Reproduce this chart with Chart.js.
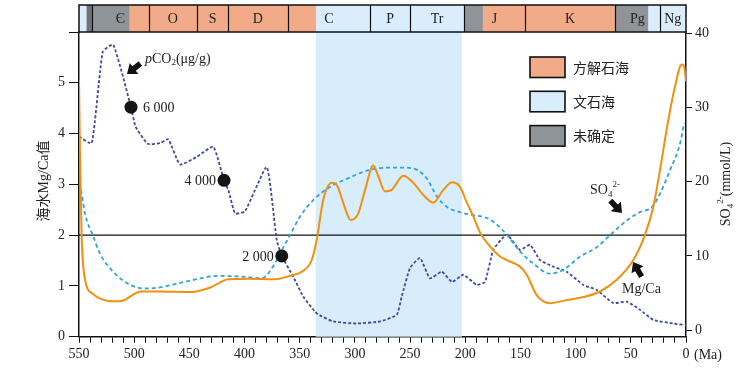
<!DOCTYPE html>
<html>
<head>
<meta charset="utf-8">
<script src="https://cdn.jsdelivr.net/npm/chart.js@4.4.0/dist/chart.umd.min.js"></script>
<style>
html, body { margin: 0; padding: 0; background: #fff; }
#wrap { width: 745px; height: 370px; position: relative; }
</style>
</head>
<body>
<div id="wrap"><canvas id="chartSeawater"></canvas></div>
<script>
// seawater Mg/Ca (left axis), age in Ma
const ageMgCa = [550, 549.1, 547.6, 546.1, 543.0, 538.5, 521, 512.8, 493.8, 476.6, 447.9, 431, 414.7, 395, 372.4, 358.8, 348.2, 339.1, 334.6, 328.6, 321.0, 316.5, 310.5, 303.8, 296.9, 290.8, 283.3, 278.8, 272.7, 266.7, 256.1, 247.1, 238.0, 229.0, 219.9, 212.0, 204.8, 198.4, 192.7, 186.6, 177.6, 168.5, 162.4, 150.4, 144.3, 135.3, 123.2, 108.1, 93.0, 77.9, 62.8, 47.7, 37.1, 29.6, 23.5, 16.0, 9.9, 3.9, 1.8, 0];
const mgCa = [5.06, 3.6, 1.97, 1.38, 0.99, 0.86, 0.70, 0.70, 0.89, 0.89, 0.88, 0.97, 1.13, 1.14, 1.13, 1.20, 1.28, 1.51, 1.91, 2.70, 3.03, 2.99, 2.63, 2.30, 2.43, 2.89, 3.37, 3.16, 2.86, 2.89, 3.17, 3.03, 2.79, 2.64, 2.89, 3.04, 2.95, 2.63, 2.37, 2.05, 1.78, 1.58, 1.51, 1.38, 1.22, 0.82, 0.66, 0.72, 0.78, 0.89, 1.12, 1.51, 2.01, 2.56, 3.29, 4.27, 4.93, 5.36, 5.33, 5.03];

// SO4 2- in mmol/L (right axis)
const ageSO4 = [550, 547.6, 544.6, 537.0, 531.0, 519.2, 503.8, 490.2, 476.6, 454.0, 424.0, 402.3, 384.2, 372.4, 367.9, 358.8, 349.7, 337.9, 322.6, 307.2, 289.0, 271.0, 256.4, 243.7, 234.7, 225.6, 216.5, 204.8, 193.0, 180.3, 171.2, 162.2, 150.4, 138.6, 123.2, 111.4, 96.0, 80.6, 68.8, 53.4, 41.7, 30.8, 23.5, 14.4, 5.3, 1.8];
const so4 = [19.8, 18.4, 15.7, 12.6, 10.3, 7.9, 6.1, 5.6, 5.75, 6.5, 7.3, 7.2, 7.0, 9.0, 10.3, 12.8, 15.3, 17.5, 19.3, 20.4, 21.5, 21.9, 21.9, 21.6, 20.4, 18.0, 16.6, 15.9, 15.5, 15.1, 14.2, 12.8, 10.6, 9.0, 7.6, 8.1, 9.9, 11.2, 12.8, 14.8, 15.9, 16.6, 18.4, 21.6, 25.2, 27.9];

// pCO2 curve, drawn against the left axis
const agePco2 = [550, 538.5, 528.5, 518.9, 502.9, 498.8, 487.9, 476.6, 469.1, 458.5, 443.4, 428.3, 418.6, 414.7, 408.6, 399.6, 379.9, 370.9, 366.3, 355.8, 346.8, 334.6, 319.6, 298.4, 277.3, 262.1, 257.6, 250.1, 241.0, 232.0, 221.3, 212.0, 201.8, 189.6, 182.1, 174.6, 162.4, 150.4, 141.3, 132.3, 120.2, 108.1, 93.0, 80.9, 65.8, 53.7, 41.7, 29.6, 11.5, 0];
const pco2 = [3.94, 3.81, 5.61, 5.75, 4.52, 4.14, 3.80, 3.81, 3.89, 3.39, 3.54, 3.74, 3.08, 2.89, 2.43, 2.47, 3.34, 1.91, 1.59, 1.18, 0.79, 0.46, 0.30, 0.26, 0.30, 0.43, 0.79, 1.35, 1.55, 1.15, 1.28, 1.08, 1.22, 1.02, 1.08, 1.71, 2.01, 1.71, 1.81, 1.51, 1.38, 1.28, 1.02, 0.92, 0.66, 0.69, 0.53, 0.33, 0.26, 0.23];

// labelled pCO2 points
const pco2MarkAge = [502.9, 418.6, 366.3];
const pco2MarkVal = [4.52, 3.08, 1.59];
const pco2MarkText = ['6 000', '4 000', '2 000'];

// geologic periods (top bar)
const periodName = ['Є', 'O', 'S', 'D', 'C', 'P', 'Tr', 'J', 'K', 'Pg', 'Ng'];
const periodStart = [538, 487, 443, 415, 361, 286, 250, 201, 146, 64, 24];
const periodEnd = [487, 443, 415, 361, 286, 250, 201, 146, 64, 24, 0];

// sea chemistry intervals
const seaStart = [550, 543, 504, 335, 201, 184, 64, 34];
const seaEnd = [543, 504, 335, 201, 184, 64, 34, 0];
const seaType = ['文石海', '未确定', '方解石海', '文石海', '未确定', '方解石海', '未确定', '文石海'];
const legendNames = ['方解石海', '文石海', '未确定'];

// aragonite interval shaded in the plot
const shadeFrom = 335.5;
const shadeTo = 203;

const xTicks = [550, 500, 450, 400, 350, 300, 250, 200, 150, 100, 50, 0];
const yLeftTicks = [0, 1, 2, 3, 4, 5];
const yRightTicks = [0, 10, 20, 30, 40];

const seaColor = { '方解石海': '#f1ab88', '文石海': '#d9edfc', '未确定': '#8f9499' };
const serif = '"Liberation Serif", "DejaVu Serif", serif';
const cjk = '"Noto Sans CJK SC", sans-serif';

function toXY(xs, ys) {
    return xs.map((v, i) => ({ x: v, y: ys[i] }));
}

function drawRich(ctx, parts, x, y, align) {
    let total = 0;
    parts.forEach(p => { ctx.font = p.font; total += ctx.measureText(p.t).width; });
    let cx = align == 'center' ? x - total / 2 : (align == 'right' ? x - total : x);
    ctx.textAlign = 'left';
    ctx.textBaseline = 'alphabetic';
    parts.forEach(p => {
        ctx.font = p.font;
        ctx.fillText(p.t, cx, y + (p.dy || 0));
        cx += ctx.measureText(p.t).width;
    });
}

function drawArrow(ctx, tx, ty, dx, dy) {
    ctx.save();
    ctx.translate(tx, ty);
    ctx.rotate(Math.atan2(dy, dx));
    ctx.beginPath();
    ctx.moveTo(0, 0);
    ctx.lineTo(-9, -7);
    ctx.lineTo(-9, -2.8);
    ctx.lineTo(-17, -2.8);
    ctx.lineTo(-17, 2.8);
    ctx.lineTo(-9, 2.8);
    ctx.lineTo(-9, 7);
    ctx.closePath();
    ctx.fillStyle = '#111';
    ctx.fill();
    ctx.restore();
}

const backPlugin = {
    id: 'backPlugin',
    beforeDatasetsDraw: function (chart) {
        const { ctx, chartArea: a, scales: { x, y } } = chart;
        ctx.save();
        const x1 = x.getPixelForValue(shadeFrom), x2 = x.getPixelForValue(shadeTo);
        ctx.fillStyle = '#d8edfb';
        ctx.fillRect(x1, a.top, x2 - x1, a.bottom - a.top);
        // Mg/Ca = 2 reference line
        const y2 = y.getPixelForValue(2);
        ctx.strokeStyle = '#111';
        ctx.lineWidth = 1.3;
        ctx.beginPath();
        ctx.moveTo(a.left, y2);
        ctx.lineTo(a.right, y2);
        ctx.stroke();
        ctx.restore();
    }
};

const frontPlugin = {
    id: 'frontPlugin',
    afterDraw: function (chart) {
        const { ctx, chartArea: a, scales: { x, y } } = chart;
        ctx.save();

        // period bar
        const bTop = 5, bBot = a.top;
        seaStart.forEach((s, i) => {
            const p1 = x.getPixelForValue(s), p2 = x.getPixelForValue(seaEnd[i]);
            ctx.fillStyle = seaColor[seaType[i]];
            ctx.fillRect(p1, bTop, p2 - p1, bBot - bTop);
        });
        ctx.fillStyle = '#6f7378';
        ctx.fillRect(x.getPixelForValue(543), bTop, x.getPixelForValue(538) - x.getPixelForValue(543), bBot - bTop);
        ctx.strokeStyle = '#111';
        ctx.lineWidth = 1.2;
        periodStart.forEach(s => {
            const px = Math.round(x.getPixelForValue(s)) + 0.5;
            ctx.beginPath();
            ctx.moveTo(px, bTop);
            ctx.lineTo(px, bBot);
            ctx.stroke();
        });
        ctx.lineWidth = 1.5;
        ctx.strokeRect(a.left, bTop, a.right - a.left, bBot - bTop);
        ctx.fillStyle = '#222';
        ctx.font = '14px ' + serif;
        ctx.textAlign = 'center';
        ctx.textBaseline = 'middle';
        periodName.forEach((n, i) => {
            const px = (x.getPixelForValue(periodStart[i]) + x.getPixelForValue(periodEnd[i])) / 2;
            ctx.fillText(n, px, (bTop + bBot) / 2 + 1);
        });

        // legend boxes
        legendNames.forEach((n, i) => {
            const by = 57 + i * 34.3;
            ctx.fillStyle = seaColor[n];
            ctx.fillRect(530, by, 35, 20.5);
            ctx.lineWidth = 1.6;
            ctx.strokeStyle = '#111';
            ctx.strokeRect(530, by, 35, 20.5);
            ctx.fillStyle = '#222';
            ctx.font = '14px ' + cjk;
            ctx.textAlign = 'left';
            ctx.textBaseline = 'middle';
            ctx.fillText(n, 573, by + 10.5);
        });

        // pCO2 marker labels
        ctx.fillStyle = '#222';
        ctx.font = '14px ' + serif;
        ctx.textBaseline = 'middle';
        pco2MarkText.forEach((t, i) => {
            const px = x.getPixelForValue(pco2MarkAge[i]);
            const py = y.getPixelForValue(pco2MarkVal[i]);
            if (i == 0) {
                ctx.textAlign = 'left';
                ctx.fillText(t, px + 12, py + 1);
            } else {
                ctx.textAlign = 'right';
                ctx.fillText(t, px - 8, py + 1);
            }
        });

        // curve annotations
        const f14 = '14px ' + serif, f9 = '9px ' + serif;
        drawRich(ctx, [
            { t: 'p', font: 'italic 14px ' + serif },
            { t: 'CO', font: f14 },
            { t: '2', font: f9, dy: 2 },
            { t: '(μg/g)', font: f14 }
        ], 145, 63, 'left');
        drawArrow(ctx, 127, 74, -14, 11);

        drawRich(ctx, [
            { t: 'SO', font: f14 },
            { t: '4', font: f9, dy: 3 },
            { t: '2-', font: f9, dy: -7 }
        ], 590, 194, 'left');
        drawArrow(ctx, 622, 213, 12, 12.7);

        drawRich(ctx, [{ t: 'Mg/Ca', font: f14 }], 622, 293, 'left');
        drawArrow(ctx, 633, 262, -8.4, -14.3);

        // (Ma) unit
        ctx.font = f14;
        ctx.textAlign = 'left';
        ctx.textBaseline = 'middle';
        ctx.fillText('(Ma)', 694, 355);

        // left axis title
        ctx.save();
        ctx.translate(43, 181);
        ctx.rotate(-Math.PI / 2);
        drawRich(ctx, [
            { t: '海水', font: '14px ' + cjk },
            { t: 'Mg/Ca', font: f14 },
            { t: '值', font: '14px ' + cjk }
        ], 0, 5, 'center');
        ctx.restore();

        // right axis title
        ctx.save();
        ctx.translate(725, 184);
        ctx.rotate(-Math.PI / 2);
        drawRich(ctx, [
            { t: 'SO', font: f14 },
            { t: '4', font: f9, dy: 3 },
            { t: '2-', font: f9, dy: -7 },
            { t: '(mmol/L)', font: f14 }
        ], 0, 5, 'center');
        ctx.restore();

        ctx.restore();
    }
};

let ctxSea = document.getElementById('chartSeawater').getContext('2d');

let seaChart = new Chart(ctxSea, {
    type: 'line',
    data: {
        datasets: [
            {
                label: 'pCO2 marks',
                data: toXY(pco2MarkAge, pco2MarkVal),
                showLine: false,
                pointRadius: 6.5,
                pointBackgroundColor: '#151515',
                pointBorderWidth: 0,
                yAxisID: 'y'
            },
            {
                label: 'Mg/Ca',
                data: toXY(ageMgCa, mgCa),
                borderColor: '#f0900e',
                borderWidth: 2,
                pointRadius: 0,
                cubicInterpolationMode: 'monotone',
                yAxisID: 'y'
            },
            {
                label: 'SO4',
                data: toXY(ageSO4, so4),
                borderColor: '#2ea3dc',
                borderWidth: 1.8,
                borderDash: [4, 3],
                pointRadius: 0,
                cubicInterpolationMode: 'monotone',
                yAxisID: 'y1'
            },
            {
                label: 'pCO2',
                data: toXY(agePco2, pco2),
                borderColor: '#3c4aa4',
                borderWidth: 1.8,
                borderDash: [3, 2],
                pointRadius: 0,
                tension: 0.15,
                yAxisID: 'y'
            }
        ]
    },
    plugins: [backPlugin, frontPlugin],
    options: {
        responsive: true,
        maintainAspectRatio: false,
        animation: false,
        layout: { padding: { top: 32, left: 0, right: 0, bottom: 0 } },
        plugins: {
            legend: { display: false },
            tooltip: { enabled: false }
        },
        scales: {
            x: {
                type: 'linear',
                min: 0,
                max: 550,
                reverse: true,
                afterFit: function (axis) { axis.height = 33.3; },
                afterBuildTicks: function (axis) {
                    let t = [];
                    for (let v = 0; v <= 550; v += 10) t.push({ value: v });
                    axis.ticks = t;
                },
                ticks: {
                    autoSkip: false,
                    maxRotation: 0,
                    padding: 3,
                    color: '#222',
                    font: { family: serif, size: 14 },
                    callback: function (v) { return xTicks.includes(v) ? String(v) : ''; }
                },
                grid: { drawOnChartArea: false, drawTicks: true, tickLength: 6, color: '#111', tickWidth: 1 },
                border: { color: '#111', width: 1.5 }
            },
            y: {
                position: 'left',
                min: 0,
                max: 6,
                afterFit: function (axis) { axis.width = 79; },
                afterBuildTicks: function (axis) {
                    axis.ticks = [0, 1, 2, 3, 4, 5, 6].map(v => ({ value: v }));
                },
                ticks: {
                    padding: 4,
                    color: '#222',
                    font: { family: serif, size: 14 },
                    callback: function (v) { return yLeftTicks.includes(v) ? String(v) : ''; }
                },
                grid: { drawOnChartArea: false, drawTicks: true, tickLength: 10, color: '#111', tickWidth: 1 },
                border: { color: '#111', width: 1.5 }
            },
            y1: {
                position: 'right',
                min: -0.9,
                max: 40.2,
                afterFit: function (axis) { axis.width = 59; },
                afterBuildTicks: function (axis) {
                    axis.ticks = yRightTicks.map(v => ({ value: v }));
                },
                ticks: {
                    padding: 3,
                    color: '#222',
                    font: { family: serif, size: 14 }
                },
                grid: { drawOnChartArea: false, drawTicks: true, tickLength: 6, color: '#111', tickWidth: 1 },
                border: { color: '#111', width: 1.5 }
            }
        }
    }
});
</script>
</body>
</html>
